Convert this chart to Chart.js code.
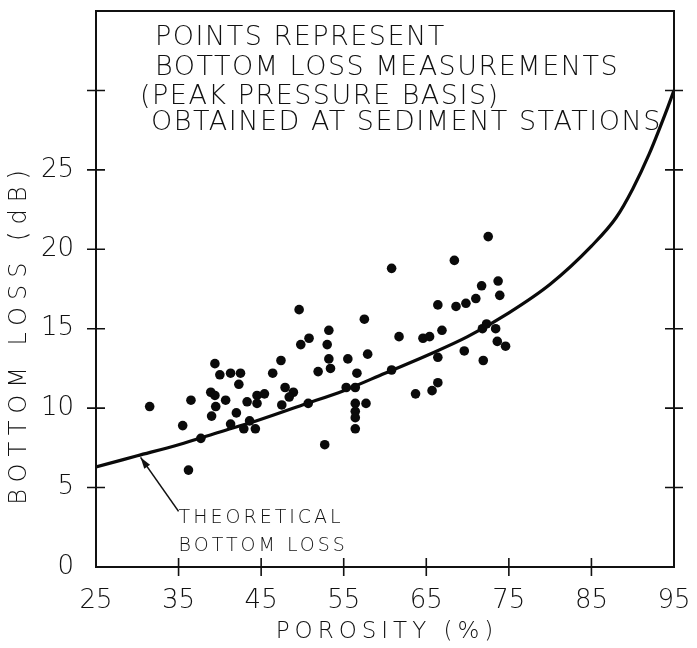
<!DOCTYPE html>
<html>
<head>
<meta charset="utf-8">
<script src="https://cdn.jsdelivr.net/npm/chart.js@4.4.0/dist/chart.umd.min.js"></script>
<style>
  html, body { margin: 0; padding: 0; background: #fff; }
  #wrap { width: 697px; height: 648px; }
</style>
</head>
<body>
<div id="wrap"><canvas id="lossChart" width="697" height="648"></canvas></div>
<script>
// Measured bottom loss (dB) vs porosity (%)
const porosity = [
  31.5, 35.5, 36.2, 36.5, 37.7, 39.4, 40.0, 41.3, 42.5, 42.3, 38.9, 39.4, 40.7, 39.5, 39.0, 42.0,
  41.3, 43.3, 44.5, 44.5, 45.4, 43.6, 42.9, 44.3, 46.4, 47.4, 47.9, 48.9, 48.4, 47.5, 49.6, 49.8,
  50.8, 50.7, 51.9, 53.0, 53.2, 53.2, 53.4, 52.7, 55.5, 55.3, 56.4, 56.6, 56.4, 56.4, 56.4, 56.4,
  57.5, 57.9, 57.7, 60.8, 60.8, 61.7, 63.7, 64.6, 65.4, 65.7, 66.4, 66.4, 66.4, 66.9, 68.4, 68.6,
  69.6, 69.8, 71.0, 71.7, 71.8, 72.3, 71.9, 72.5, 73.4, 73.6, 73.7, 73.9, 74.6
];
const bottomLoss = [
  10.1, 8.9, 6.1, 10.5, 8.1, 12.8, 12.1, 12.2, 12.2, 11.5, 11.0, 10.8, 10.5, 10.1, 9.5, 9.7,
  9.0, 10.4, 10.8, 10.3, 10.9, 9.2, 8.7, 8.7, 12.2, 13.0, 11.3, 11.0, 10.7, 10.2, 16.2, 14.0,
  14.4, 10.3, 12.3, 14.0, 14.9, 13.1, 12.5, 7.7, 13.1, 11.3, 11.3, 12.2, 10.3, 9.8, 9.4, 8.7,
  15.6, 13.4, 10.3, 18.8, 12.4, 14.5, 10.9, 14.4, 14.5, 11.1, 11.6, 13.2, 16.5, 14.9, 19.3, 16.4,
  13.6, 16.6, 16.9, 17.7, 15.0, 15.3, 13.0, 20.8, 15.0, 14.2, 18.0, 17.1, 13.9
];

// Theoretical bottom loss curve
const theoryPorosity = [25, 30, 35, 40, 45, 50, 55, 60, 65, 70, 75, 80, 85, 88, 90, 92, 94, 95];
const theoryLoss = [6.3, 7.0, 7.7, 8.5, 9.3, 10.2, 11.1, 12.2, 13.3, 14.5, 16.0, 17.8, 20.2, 22.0, 23.8, 26.0, 28.6, 30.0];

// Axis ticks
const xTickLabels = [25, 35, 45, 55, 65, 75, 85, 95];
const xTickMarks = [35, 45, 55, 65, 75, 85];
const yTickLabels = [0, 5, 10, 15, 20, 25];
const yTickMarks = [5, 10, 15, 20, 25, 30];

const noteLines = [
  'POINTS REPRESENT',
  'BOTTOM LOSS MEASUREMENTS',
  '(PEAK PRESSURE BASIS)',
  'OBTAINED AT SEDIMENT STATIONS'
];
const curveLabel = ['THEORETICAL', 'BOTTOM LOSS'];

const FONT = 'DejaVu Sans';

// frame, crossing tick marks and the hand-lettered notes
const decorations = {
  id: 'decorations',
  afterDraw(chart) {
    const { ctx, chartArea: a, scales: { x, y } } = chart;
    ctx.save();
    ctx.strokeStyle = '#111';
    ctx.lineWidth = 2;
    ctx.strokeRect(a.left, a.top, a.right - a.left, a.bottom - a.top);

    ctx.lineWidth = 1.6;
    ctx.beginPath();
    yTickMarks.forEach(v => {
      const py = y.getPixelForValue(v);
      ctx.moveTo(a.left - 9, py); ctx.lineTo(a.left + 9, py);
      ctx.moveTo(a.right - 9, py); ctx.lineTo(a.right + 9, py);
    });
    xTickMarks.forEach(v => {
      const px = x.getPixelForValue(v);
      ctx.moveTo(px, a.bottom - 9); ctx.lineTo(px, a.bottom + 9);
    });
    ctx.stroke();

    ctx.fillStyle = '#111';
    ctx.textBaseline = 'middle';
    ctx.textAlign = 'left';

    // note box text
    ctx.font = '300 27px "' + FONT + '"';
    ctx.letterSpacing = '1.5px';
    const noteX = [155, 155, 140, 151];
    const noteY = [38, 68, 97, 123];
    noteLines.forEach((t, i) => ctx.fillText(t, noteX[i], noteY[i]));

    // curve label with arrow
    const lx = x.getPixelForValue(35);
    ctx.font = '300 19px "' + FONT + '"';
    ctx.letterSpacing = '3px';
    ctx.fillText(curveLabel[0], lx, y.getPixelForValue(3.1));
    ctx.fillText(curveLabel[1], lx, y.getPixelForValue(1.3));
    ctx.letterSpacing = '0px';

    const tx = x.getPixelForValue(30.4), ty = y.getPixelForValue(6.9);
    const sx = x.getPixelForValue(35), sy = y.getPixelForValue(3.5);
    ctx.lineWidth = 1.6;
    ctx.beginPath();
    ctx.moveTo(sx, sy); ctx.lineTo(tx, ty);
    ctx.stroke();
    const ang = Math.atan2(ty - sy, tx - sx);
    ctx.beginPath();
    ctx.moveTo(tx, ty);
    ctx.lineTo(tx - 12 * Math.cos(ang - 0.3), ty - 12 * Math.sin(ang - 0.3));
    ctx.lineTo(tx - 12 * Math.cos(ang + 0.3), ty - 12 * Math.sin(ang + 0.3));
    ctx.closePath();
    ctx.fill();

    // axis titles
    ctx.font = '300 23px "' + FONT + '"';
    ctx.letterSpacing = '5px';
    ctx.textAlign = 'center';
    ctx.fillText('POROSITY (%)', 387, 632);
    ctx.save();
    ctx.translate(20, 334);
    ctx.rotate(-Math.PI / 2);
    ctx.font = '300 24px "' + FONT + '"';
    ctx.letterSpacing = '7px';
    ctx.fillText('BOTTOM LOSS (dB)', 0, 0);
    ctx.restore();
    ctx.restore();
  }
};

const ctx = document.getElementById('lossChart').getContext('2d');
const lossChart = new Chart(ctx, {
  type: 'scatter',
  data: {
    datasets: [
      {
        label: 'Measurements',
        data: porosity.map((p, i) => ({ x: p, y: bottomLoss[i] })),
        pointRadius: 4.8,
        pointBackgroundColor: '#0a0a0a',
        pointBorderWidth: 0,
        showLine: false
      },
      {
        label: 'Theoretical bottom loss',
        data: theoryPorosity.map((p, i) => ({ x: p, y: theoryLoss[i] })),
        showLine: true,
        borderColor: '#0a0a0a',
        borderWidth: 3.2,
        pointRadius: 0,
        cubicInterpolationMode: 'monotone'
      }
    ]
  },
  options: {
    responsive: false,
    animation: false,
    layout: { padding: { top: 11, right: 23, left: 0, bottom: 0 } },
    plugins: {
      legend: { display: false },
      tooltip: { enabled: false }
    },
    scales: {
      x: {
        type: 'linear',
        min: 25,
        max: 95,
        afterBuildTicks: scale => { scale.ticks = xTickLabels.map(v => ({ value: v })); },
        afterFit: scale => { scale.height = 81; scale.paddingLeft = 0; scale.paddingRight = 0; },
        grid: { display: false },
        border: { display: false },
        ticks: { color: '#111', padding: 11, font: { family: FONT, size: 26, weight: 300 } }
      },
      y: {
        min: 0,
        max: 35,
        afterBuildTicks: scale => { scale.ticks = yTickLabels.map(v => ({ value: v })); },
        afterFit: scale => { scale.width = 96; scale.paddingTop = 0; scale.paddingBottom = 0; },
        grid: { display: false },
        border: { display: false },
        ticks: { color: '#111', padding: 14, font: { family: FONT, size: 26, weight: 300 } }
      }
    }
  },
  plugins: [decorations]
});
</script>
</body>
</html>
